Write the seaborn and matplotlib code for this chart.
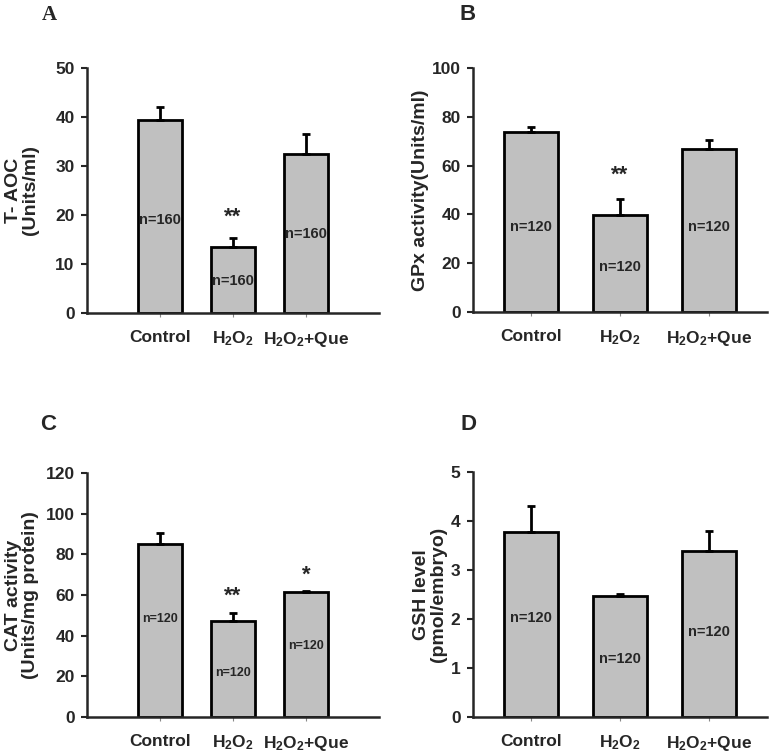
import numpy as np
import seaborn as sns
import matplotlib.pyplot as plt

groups = ['Control', 'H$_2$O$_2$', 'H$_2$O$_2$+Que']

aoc_mean = [39.4, 13.4, 32.5]
aoc_err = [2.6, 2.0, 4.0]
aoc_n = ['n=160', 'n=160', 'n=160']
aoc_n_y = [19.0, 6.6, 16.1]
aoc_sig = ['', '**', '']

gpx_mean = [73.6, 39.9, 66.9]
gpx_err = [2.2, 6.5, 3.7]
gpx_n = ['n=120', 'n=120', 'n=120']
gpx_n_y = [34.7, 18.3, 34.7]
gpx_sig = ['', '**', '']

cat_mean = [85.2, 47.0, 61.3]
cat_err = [5.5, 4.1, 0.8]
cat_n = ['n=120', 'n=120', 'n=120']
cat_n_y = [48.4, 21.6, 35.1]
cat_sig = ['', '**', '*']

gsh_mean = [3.78, 2.46, 3.39]
gsh_err = [0.53, 0.06, 0.41]
gsh_n = ['n=120', 'n=120', 'n=120']
gsh_n_y = [2.03, 1.18, 1.73]
gsh_sig = ['', '', '']

sns.set_style('white')
plt.rcParams['font.family'] = ['Liberation Sans', 'DejaVu Sans']
plt.rcParams['font.weight'] = 'bold'
plt.rcParams['mathtext.fontset'] = 'custom'
plt.rcParams['mathtext.rm'] = 'Liberation Sans:bold'
plt.rcParams['mathtext.it'] = 'Liberation Sans:bold'
plt.rcParams['mathtext.bf'] = 'Liberation Sans:bold'

fig = plt.figure(figsize=(7.72, 7.54), dpi=100)


def panel(rect, means, errs, ymax, step, ylabel, label_x, ns, n_y, sigs, sig_y,
          xlim, n_size):
    ax = fig.add_axes(rect)
    sns.barplot(x=groups, y=means, color='#c0c0c0', saturation=1, width=0.6,
                edgecolor='black', linewidth=2, errorbar=None, ax=ax)
    ax.errorbar(range(3), means, yerr=[np.zeros(3), errs], fmt='none',
                ecolor='black', elinewidth=2, capsize=3, capthick=2, zorder=1)
    ax.set_xlim(*xlim)
    ax.set_ylim(0, ymax)
    ax.set_yticks(np.arange(0, ymax + step / 2, step))
    for s in ['top', 'right']:
        ax.spines[s].set_visible(False)
    ax.spines['left'].set_linewidth(1.8)
    ax.spines['bottom'].set_linewidth(1.8)
    ax.tick_params(axis='y', direction='out', length=4, width=1.5, pad=5,
                   labelsize=12.5, left=True)
    ax.tick_params(axis='x', direction='out', length=3, width=0.8, color='#888888',
                   pad=9, labelsize=12.5, bottom=True)
    for t in ax.get_yticklabels() + ax.get_xticklabels():
        t.set_fontweight('bold')
    ax.set_xlabel('')
    ax.set_ylabel(ylabel, fontsize=14, fontweight='bold', linespacing=1.0)
    ax.yaxis.set_label_coords(label_x, 0.5)
    for i in range(3):
        ax.text(i, n_y[i], ns[i], ha='center', va='center', fontsize=n_size,
                fontweight='bold')
        if sigs[i]:
            ax.text(i, sig_y[i], sigs[i], ha='center', va='center', fontsize=16,
                    fontweight='bold')
    return ax


panel([0.1127, 0.5849, 0.3783, 0.3249], aoc_mean, aoc_err, 50, 10,
      'T- AOC\n(Units/ml)', -0.165, aoc_n, aoc_n_y, aoc_sig, [0, 19.6, 0],
      (-1.0, 3.0), 10.5)
panel([0.6127, 0.5862, 0.3808, 0.3236], gpx_mean, gpx_err, 100, 20,
      'GPx activity(Units/ml)', -0.15, gpx_n, gpx_n_y, gpx_sig, [0, 56, 0],
      (-0.65, 2.65), 10.5)
panel([0.1127, 0.0491, 0.3783, 0.3236], cat_mean, cat_err, 120, 20,
      'CAT activity\n(Units/mg protein)', -0.165, cat_n, cat_n_y, cat_sig,
      [0, 59.5, 69.5], (-1.0, 3.0), 9)
panel([0.6127, 0.0491, 0.3808, 0.3249], gsh_mean, gsh_err, 5, 1,
      'GSH level\n(pmol/embryo)', -0.09, gsh_n, gsh_n_y, gsh_sig, [0, 0, 0],
      (-0.65, 2.65), 10.5)

fig.text(49 / 772, 1 - 15 / 754, 'A', family='Liberation Serif', fontsize=15,
         fontweight='bold', ha='center', va='center')
fig.text(468 / 772, 1 - 15 / 754, 'B', fontsize=16, fontweight='bold',
         ha='center', va='center')
fig.text(48 / 772, 1 - 424 / 754, 'C', fontsize=16, fontweight='bold',
         ha='center', va='center')
fig.text(468 / 772, 1 - 424 / 754, 'D', fontsize=16, fontweight='bold',
         ha='center', va='center')

fig.savefig('out.png', dpi=100)
